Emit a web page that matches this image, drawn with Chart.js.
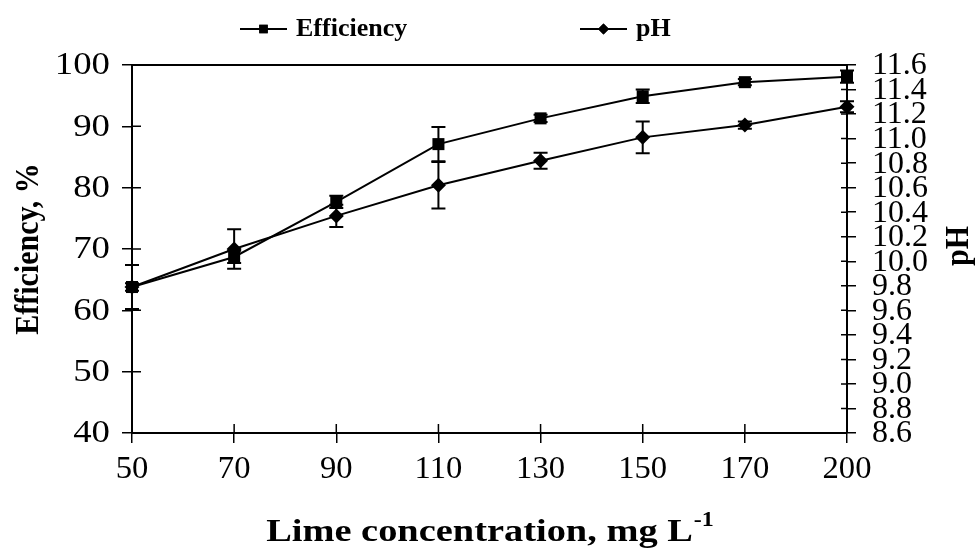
<!DOCTYPE html>
<html>
<head>
<meta charset="utf-8">
<script src="https://cdn.jsdelivr.net/npm/chart.js@4.4.0/dist/chart.umd.min.js"></script>
<style>
  html, body { margin: 0; padding: 0; background: #fff; }
</style>
</head>
<body>
<canvas id="chart" width="976" height="559"></canvas>
<script>
// lime dose (mg/L) and the measured results with their standard deviations
var limeDoses = ['50', '70', '90', '110', '130', '150', '170', '200'];
var efficiency = [63.8, 68.7, 77.7, 87.1, 91.3, 94.9, 97.2, 98.1];
var efficiencyErr = [3.6, 1.0, 1.0, 2.8, 0.6, 1.1, 0.5, 1.0];
var phValues = [9.79, 10.10, 10.37, 10.62, 10.82, 11.01, 11.11, 11.26];
var phErr = [0.03, 0.16, 0.09, 0.19, 0.065, 0.13, 0.03, 0.045];
var efficiencyTicks = [40, 50, 60, 70, 80, 90, 100];
var phTicks = [8.6, 8.8, 9.0, 9.2, 9.4, 9.6, 9.8, 10.0, 10.2, 10.4, 10.6, 10.8, 11.0, 11.2, 11.4, 11.6];

var serif = '"Liberation Serif", "Times New Roman", serif';

// text drawn with a horizontal stretch factor
function wideText(ctx, text, x, y, align, stretch) {
    ctx.save();
    ctx.translate(x, y);
    ctx.scale(stretch, 1);
    ctx.textAlign = align;
    ctx.fillText(text, 0, 0);
    ctx.restore();
}

// error bars, frame, inner ticks, labels, titles and legend
var extras = {
    id: 'extras',
    beforeDatasetsDraw: function(chart) {
        var ctx = chart.ctx, a = chart.chartArea;
        var x = chart.scales.x, y = chart.scales.y, y1 = chart.scales.y1;
        ctx.save();
        ctx.strokeStyle = '#000';

        // top edge of the plot frame
        ctx.lineWidth = 2;
        ctx.beginPath();
        ctx.moveTo(a.left - 1, a.top);
        ctx.lineTo(a.right + 1, a.top);
        ctx.stroke();

        // tick marks cross the axis lines
        ctx.lineWidth = 1.5;
        ctx.beginPath();
        y.ticks.forEach(function(t, i) {
            var py = y.getPixelForTick(i);
            ctx.moveTo(a.left, py); ctx.lineTo(a.left + 9, py);
        });
        y1.ticks.forEach(function(t, i) {
            var py = y1.getPixelForTick(i);
            ctx.moveTo(a.right - 6, py); ctx.lineTo(a.right, py);
        });
        x.ticks.forEach(function(t, i) {
            var px = x.getPixelForTick(i);
            ctx.moveTo(px, a.bottom); ctx.lineTo(px, a.bottom - 9);
        });
        ctx.stroke();

        // error bars
        ctx.lineWidth = 2;
        var bars = [
            { scale: y, values: efficiency, err: efficiencyErr },
            { scale: y1, values: phValues, err: phErr }
        ];
        bars.forEach(function(b) {
            b.values.forEach(function(v, i) {
                var px = x.getPixelForValue(i);
                var hi = b.scale.getPixelForValue(v + b.err[i]);
                var lo = b.scale.getPixelForValue(v - b.err[i]);
                ctx.beginPath();
                ctx.moveTo(px, hi); ctx.lineTo(px, lo);
                ctx.moveTo(px - 7, hi); ctx.lineTo(px + 7, hi);
                ctx.moveTo(px - 7, lo); ctx.lineTo(px + 7, lo);
                ctx.stroke();
            });
        });
        ctx.restore();
    },
    afterDraw: function(chart) {
        var ctx = chart.ctx, a = chart.chartArea;
        var x = chart.scales.x, y = chart.scales.y, y1 = chart.scales.y1;
        ctx.save();
        ctx.fillStyle = '#000';
        ctx.strokeStyle = '#000';
        ctx.textBaseline = 'middle';

        // tick labels, taken from the scales
        ctx.font = '32px ' + serif;
        y.ticks.forEach(function(t, i) {
            wideText(ctx, t.label, a.left - 22, y.getPixelForTick(i) + 1, 'right', 1.15);
        });
        y1.ticks.forEach(function(t, i) {
            wideText(ctx, t.label, a.right + 25, y1.getPixelForTick(i) + 1, 'left', 1);
        });
        x.ticks.forEach(function(t, i) {
            wideText(ctx, t.label, x.getPixelForTick(i), a.bottom + 37, 'center', 1.02);
        });

        // axis titles
        ctx.font = 'bold 30px ' + serif;
        ctx.save();
        ctx.translate(29, (a.top + a.bottom) / 2);
        ctx.scale(1.15, 1);
        ctx.rotate(-Math.PI / 2);
        ctx.textAlign = 'center';
        ctx.fillText('Efficiency, %', 0, 0);
        ctx.restore();

        ctx.save();
        ctx.translate(959, (a.top + a.bottom) / 2 - 3);
        ctx.scale(1.1, 1);
        ctx.rotate(-Math.PI / 2);
        ctx.textAlign = 'center';
        ctx.fillText('pH', 0, 0);
        ctx.restore();

        var main = 'Lime concentration, mg L';
        var sup = '-1';
        var xs = 1.2;
        ctx.font = 'bold 32px ' + serif;
        var w1 = ctx.measureText(main).width * xs;
        ctx.font = 'bold 20px ' + serif;
        var w2 = ctx.measureText(sup).width * xs;
        var sx = (a.left + a.right) / 2 - (w1 + w2) / 2;
        ctx.textBaseline = 'alphabetic';
        ctx.font = 'bold 32px ' + serif;
        wideText(ctx, main, sx, 541, 'left', xs);
        ctx.font = 'bold 20px ' + serif;
        wideText(ctx, sup, sx + w1 + 1, 526, 'left', xs);

        // legend
        var legendX = [240, 580];
        ctx.textBaseline = 'middle';
        chart.data.datasets.forEach(function(ds, i) {
            var lx = legendX[i], ly = 29;
            ctx.lineWidth = 2;
            ctx.beginPath();
            ctx.moveTo(lx, ly); ctx.lineTo(lx + 47, ly);
            ctx.stroke();
            Chart.helpers.drawPoint(ctx, {
                pointStyle: ds.pointStyle,
                radius: ds.pointStyle === 'rect' ? 6 : 5.5,
                rotation: 0,
                borderWidth: 0
            }, lx + 23.5, ly);
            ctx.fill();
            ctx.font = 'bold 26px ' + serif;
            wideText(ctx, ds.label, lx + 56, ly, 'left', 1);
        });
        ctx.restore();
    }
};

var tickOpts = { display: false, autoSkip: false };

new Chart(document.getElementById('chart').getContext('2d'), {
    type: 'line',
    data: {
        labels: limeDoses,
        datasets: [{
            label: 'Efficiency',
            data: efficiency,
            yAxisID: 'y',
            borderColor: '#000',
            backgroundColor: '#000',
            borderWidth: 2,
            pointStyle: 'rect',
            pointRadius: 8.5,
            pointBorderWidth: 0,
            tension: 0,
            clip: false
        }, {
            label: 'pH',
            data: phValues,
            yAxisID: 'y1',
            borderColor: '#000',
            backgroundColor: '#000',
            borderWidth: 2,
            pointStyle: 'rectRot',
            pointRadius: 7.5,
            pointBorderWidth: 0,
            tension: 0,
            clip: false
        }]
    },
    options: {
        responsive: false,
        animation: false,
        layout: { padding: { top: 65, left: 0, right: 0, bottom: 0 } },
        plugins: {
            legend: { display: false },
            tooltip: { enabled: false }
        },
        scales: {
            x: {
                type: 'category',
                offset: false,
                grid: { drawOnChartArea: false, tickLength: 10, color: '#000', lineWidth: 1.5 },
                border: { color: '#000', width: 2 },
                ticks: tickOpts,
                afterFit: function(s) { s.height = 126; }
            },
            y: {
                position: 'left',
                min: 40,
                max: 100,
                afterBuildTicks: function(s) { s.ticks = efficiencyTicks.map(function(v) { return { value: v }; }); },
                grid: { drawOnChartArea: false, tickLength: 10, color: '#000', lineWidth: 1.5 },
                border: { color: '#000', width: 2 },
                ticks: tickOpts,
                afterFit: function(s) { s.width = 132; }
            },
            y1: {
                position: 'right',
                min: 8.6,
                max: 11.6,
                afterBuildTicks: function(s) { s.ticks = phTicks.map(function(v) { return { value: v }; }); },
                grid: { drawOnChartArea: false, tickLength: 9, color: '#000', lineWidth: 1.5 },
                border: { color: '#000', width: 2 },
                ticks: {
                    display: false, autoSkip: false,
                    callback: function(v) { return v.toFixed(1); }
                },
                afterFit: function(s) { s.width = 129; }
            }
        }
    },
    plugins: [extras]
});
</script>
</body>
</html>
